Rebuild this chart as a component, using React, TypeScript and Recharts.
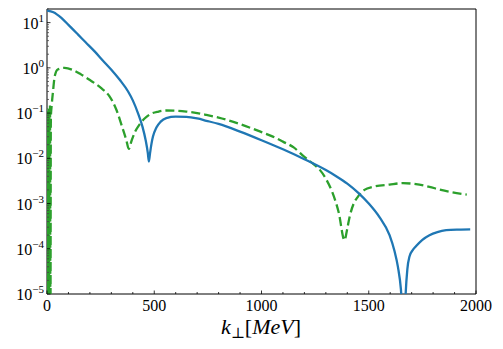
import { LineChart, Line, XAxis, YAxis, ReferenceArea } from "recharts";

// blue (solid) curve
const blueK = [0, 30, 67, 100, 145, 180, 222, 260, 300, 340, 378, 400, 424, 445, 460, 470, 475, 480, 487, 494, 510, 530, 556, 600, 650, 700, 743, 800, 900, 1000, 1100, 1200, 1300, 1350, 1400, 1450, 1500, 1550, 1597, 1620, 1636, 1650, 1664, 1672, 1680, 1690, 1705, 1721, 1750, 1783, 1820, 1861, 1920, 1973];
const blueV = [18.45, 17.0, 12.7, 8.91, 5.42, 3.67, 2.31, 1.46, 0.908, 0.537, 0.3, 0.191, 0.1, 0.0501, 0.0251, 0.0132, 0.0085, 0.0126, 0.0209, 0.0302, 0.0479, 0.0646, 0.0776, 0.0832, 0.0822, 0.0759, 0.0676, 0.0575, 0.0389, 0.0251, 0.0158, 0.00955, 0.0055, 0.00398, 0.00275, 0.00174, 0.001, 0.000501, 0.0002, 0.0000891, 0.0000398, 0.0000126, 0.000001, 0.00001, 0.0000355, 0.0000676, 0.0000933, 0.000115, 0.000158, 0.0002, 0.000234, 0.000257, 0.000266, 0.000269];

// green (dashed) curve
const greenK = [0, 2, 4, 6, 8, 10, 12, 14, 16, 18, 22, 28, 36, 50, 82, 120, 160, 200, 253, 290, 323, 350, 370, 381, 395, 410, 432, 455, 479, 520, 556, 600, 650, 700, 743, 800, 898, 1000, 1053, 1100, 1150, 1200, 1240, 1271, 1300, 1330, 1360, 1387, 1400, 1411, 1430, 1449, 1480, 1519, 1597, 1659, 1720, 1783, 1830, 1876, 1957];
const greenV = [0.000001, 0.12, 0.000001, 0.1, 0.000001, 0.13, 0.000001, 0.15, 0.000001, 0.08, 0.15, 0.3, 0.65, 0.92, 1.0, 0.9, 0.708, 0.537, 0.355, 0.24, 0.12, 0.0501, 0.0251, 0.0162, 0.0251, 0.038, 0.0562, 0.0759, 0.0933, 0.108, 0.114, 0.113, 0.108, 0.1, 0.0912, 0.0794, 0.0575, 0.038, 0.0302, 0.0234, 0.0174, 0.0107, 0.00759, 0.00562, 0.00355, 0.00178, 0.000631, 0.000155, 0.000282, 0.000513, 0.001, 0.00141, 0.002, 0.00234, 0.00263, 0.00282, 0.00269, 0.00234, 0.00204, 0.00182, 0.00158];

const xTicks = Array.from({ length: 21 }, (_, i) => i * 100);
const yMajor = [-5, -4, -3, -2, -1, 0, 1];
const yTicks: number[] = [];
yMajor.forEach((p) => {
  for (let m = 1; m <= 9; m++) {
    const v = m * Math.pow(10, p);
    if (v <= 20) yTicks.push(v);
  }
});

const blueData = blueK.map((k, i) => ({ k, v: blueV[i] }));
const greenData = greenK.map((k, i) => ({ k, v: greenV[i] }));

const FONT = "'Liberation Serif', 'DejaVu Serif', serif";

function XTick({ x, y, payload }: any) {
  const major = payload.value % 500 === 0;
  return (
    <g>
      <line x1={x} x2={x} y1={y} y2={y - (major ? 3.5 : 2)} stroke="#000" strokeWidth={0.8} />
      {major && (
        <text x={x} y={y + 17} textAnchor="middle" fontFamily={FONT} fontSize={16} fill="#000">
          {payload.value}
        </text>
      )}
    </g>
  );
}

function YTick({ x, y, payload }: any) {
  const p = Math.log10(payload.value);
  const major = Math.abs(p - Math.round(p)) < 1e-6;
  const exp = Math.round(p);
  return (
    <g>
      <line x1={x} x2={x + (major ? 3.5 : 2)} y1={y} y2={y} stroke={major ? "#000" : "#444"} strokeWidth={0.8} />
      {major && (
        <text x={x - 3} y={y + 6} textAnchor="end" fontFamily={FONT} fontSize={16} fill="#000">
          10
          <tspan dy={-7} fontSize={11}>{exp < 0 ? "\u2212" + -exp : exp}</tspan>
        </text>
      )}
    </g>
  );
}

export default function App() {
  return (
    <div style={{ width: 487, height: 333, position: "relative" }}>
      <LineChart width={487} height={333} margin={{ top: 1, right: 19, left: 0, bottom: 0 }}>
        <XAxis
          dataKey="k" type="number" domain={[0, 2000]} ticks={xTicks} interval={0}
          axisLine={false} tickLine={false} tickSize={0} tickMargin={0} height={47}
          tick={<XTick />} allowDataOverflow
        />
        <YAxis
          dataKey="v" type="number" scale="log" domain={[1e-5, 20]} ticks={yTicks} interval={0}
          axisLine={false} tickLine={false} tickSize={0} tickMargin={0} width={39}
          tick={<YTick />} allowDataOverflow
        />
        <ReferenceArea x1={0} x2={2000} y1={1e-5} y2={20} fill="none" stroke="#000" strokeWidth={1} fillOpacity={0} />
        <Line data={greenData} dataKey="v" type="monotone" stroke="#2ca02c" strokeWidth={2.3}
          strokeDasharray="9 4" dot={false} isAnimationActive={false} />
        <Line data={blueData} dataKey="v" type="monotone" stroke="#1f77b4" strokeWidth={2.3}
          dot={false} isAnimationActive={false} />
      </LineChart>
      <svg width={487} height={333} style={{ position: "absolute", left: 0, top: 0, pointerEvents: "none" }}>
        <text x={253} y={326} textAnchor="middle" fontFamily={FONT} fontSize={22} fill="#000">
          <tspan fontStyle="italic">k</tspan>
          <tspan dy={4} fontSize={15}>{"\u22a5"}</tspan>
          <tspan dy={-4}>[</tspan>
          <tspan fontStyle="italic">MeV</tspan>
          <tspan>]</tspan>
        </text>
      </svg>
    </div>
  );
}
